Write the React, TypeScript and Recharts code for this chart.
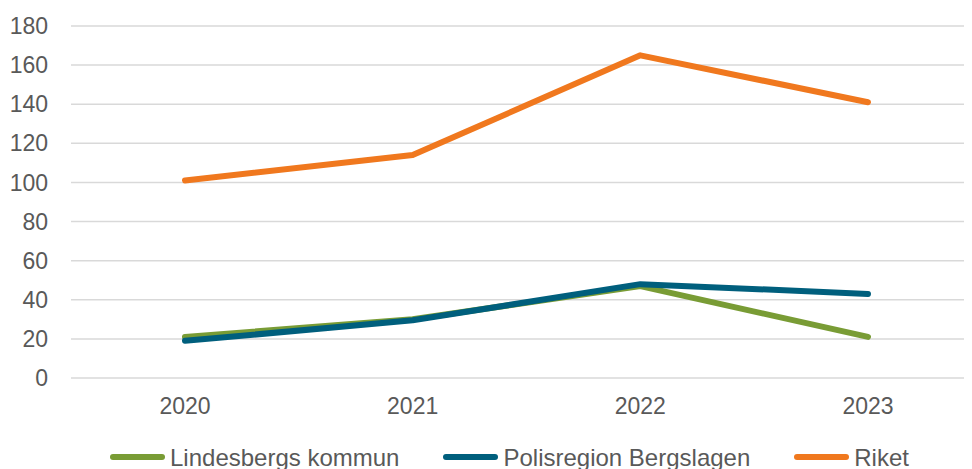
import { LineChart, Line, XAxis, YAxis, CartesianGrid, Legend } from "recharts";

const YEARS = ["2020", "2021", "2022", "2023"];
const LINDESBERG = [21, 30, 47, 21];
const POLISREGION = [19, 29.5, 48, 43];
const RIKET = [101, 114, 165, 141];
const Y_TICKS = [0, 20, 40, 60, 80, 100, 120, 140, 160, 180];

const SERIES = [
  { key: "lindesberg", label: "Lindesbergs kommun", color: "#799C35" },
  { key: "polisregion", label: "Polisregion Bergslagen", color: "#005F7D" },
  { key: "riket", label: "Riket", color: "#F0781E" },
];

const DATA = YEARS.map((year, i) => ({
  year,
  lindesberg: LINDESBERG[i],
  polisregion: POLISREGION[i],
  riket: RIKET[i],
}));

const FONT = '"Liberation Sans", Arial, sans-serif';
const TEXT = "#595959";

function ChartLegend() {
  return (
    <div style={{ display: "flex", fontFamily: FONT, fontSize: 24, color: TEXT, whiteSpace: "nowrap" }}>
      {SERIES.map((s) => (
        <div key={s.key} style={{ display: "flex", alignItems: "flex-start", marginRight: 44 }}>
          <div
            style={{
              width: 55,
              height: 6,
              borderRadius: 3,
              background: s.color,
              marginTop: 10,
              marginRight: 5,
            }}
          />
          <span>{s.label}</span>
        </div>
      ))}
    </div>
  );
}

export default function App() {
  return (
    <div style={{ width: 964, height: 461, overflow: "hidden", position: "relative" }}>
      <LineChart
        width={974}
        height={461}
        data={DATA}
        margin={{ top: 18, right: 0, left: 0, bottom: 0 }}
      >
        <CartesianGrid vertical={false} stroke="#D9D9D9" strokeWidth={1.5} />
        <XAxis
          dataKey="year"
          height={91}
          padding={{ left: 114, right: 114 }}
          axisLine={false}
          tickLine={false}
          tickSize={0}
          tickMargin={20}
          tick={{ fontSize: 23, fill: TEXT, fontFamily: FONT }}
        />
        <YAxis
          width={63}
          domain={[0, 180]}
          ticks={Y_TICKS}
          axisLine={false}
          tickLine={false}
          tickSize={0}
          tickMargin={23}
          tick={{ fontSize: 23, fill: TEXT, fontFamily: FONT }}
        />
        <Legend
          layout="horizontal"
          verticalAlign="middle"
          align="center"
          content={() => <ChartLegend />}
          wrapperStyle={{ top: 436, left: 102, width: "auto" }}
        />
        {SERIES.map((s) => (
          <Line
            key={s.key}
            type="linear"
            dataKey={s.key}
            name={s.label}
            stroke={s.color}
            strokeWidth={6}
            strokeLinecap="round"
            strokeLinejoin="round"
            dot={false}
            activeDot={false}
            isAnimationActive={false}
          />
        ))}
      </LineChart>
    </div>
  );
}
